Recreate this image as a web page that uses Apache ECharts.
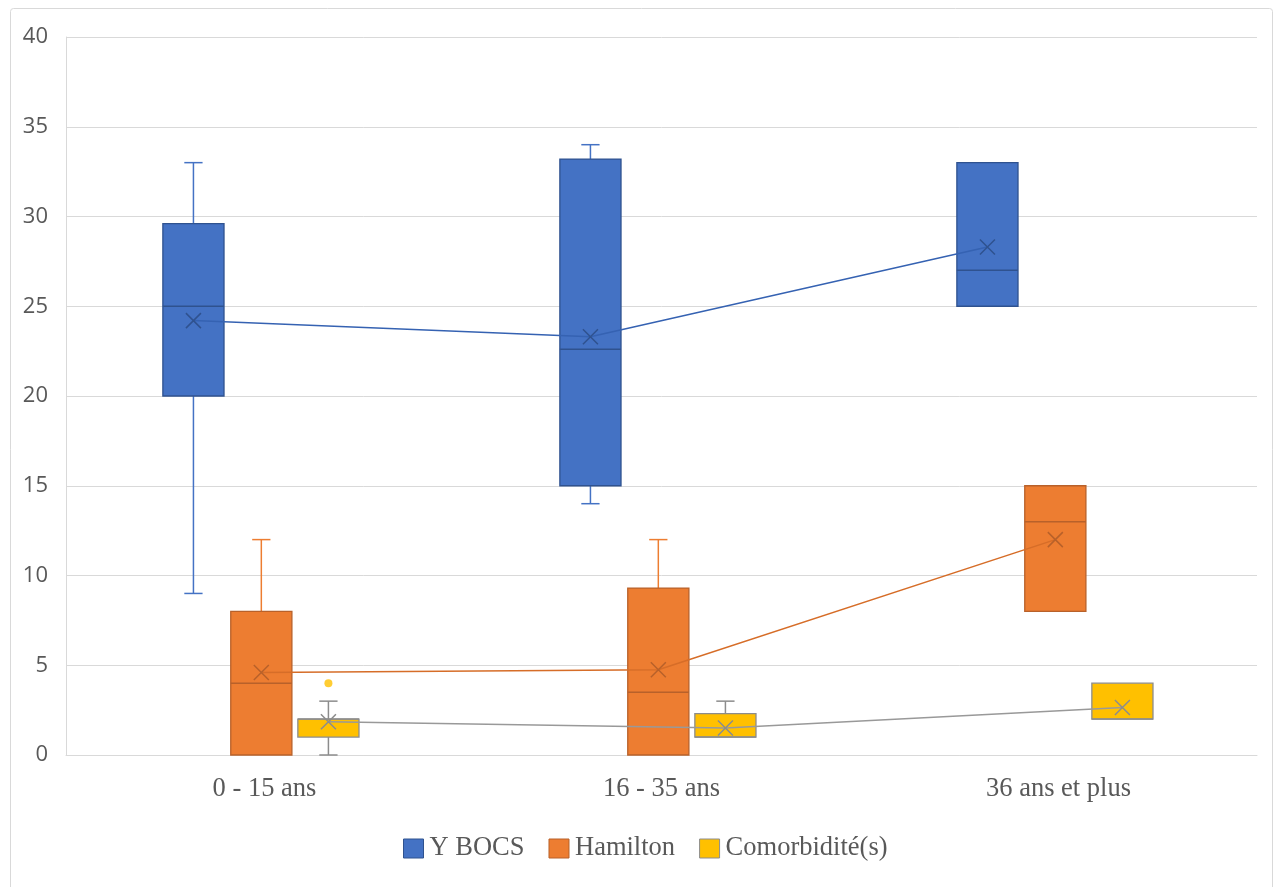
<!DOCTYPE html>
<html>
<head>
<meta charset="utf-8">
<script src="https://cdn.jsdelivr.net/npm/echarts@6/dist/echarts.min.js"></script>
<style>
  html, body { margin: 0; padding: 0; background: #fff; }
  #chart { width: 1274px; height: 887px; }
</style>
</head>
<body>
<div id="chart"></div>
<script>
// ---- Data ----
const categories = ['0 - 15 ans', '16 - 35 ans', '36 ans et plus'];
const seriesNames = ['Y BOCS', 'Hamilton', 'Comorbidité(s)'];
// [min, Q1, median, Q3, max]
const ybocsBox = [[9, 20, 25, 29.6, 33], [14, 15, 22.6, 33.2, 34], [25, 25, 27, 33, 33]];
const hamiltonBox = [[0, 0, 4, 8, 12], [0, 0, 3.5, 9.3, 12], [8, 8, 13, 15, 15]];
const comorbBox = [[0, 1, 2, 2, 3], [1, 1, 1, 2.3, 3], [2, 2, 2, 4, 4]];
const ybocsMean = [24.2, 23.3, 28.3];
const hamiltonMean = [4.6, 4.75, 12];
const comorbMean = [1.85, 1.5, 2.65];
// outliers: [category index, value]
const comorbOutliers = [[0, 4]];
const yTicks = [0, 5, 10, 15, 20, 25, 30, 35, 40];

// ---- Style ----
const styles = [
  { fill: '#4472C4', border: '#2F528F', whisker: '#4472C4', line: '#3562B2', mark: '#2F528F', offset: -0.179 },
  { fill: '#ED7D31', border: '#B8612A', whisker: '#ED7D31', line: '#D66D28', mark: '#B8612A', offset: -0.008 },
  { fill: '#FFC000', border: '#8C8C8C', whisker: '#8C8C8C', line: '#999999', mark: '#8C8C8C', offset: 0.161 }
];
const boxFrac = 0.154;
const capFrac = 0.046;

function makeRender(st) {
  return function (params, api) {
    const ci = api.value(0);
    const band = api.size([1, 0])[0];
    const cx = api.coord([ci, 0])[0] + band * st.offset;
    const w = band * boxFrac;
    const cap = band * capFrac;
    const y = i => api.coord([ci, api.value(i)])[1];
    const yMin = y(1), yQ1 = y(2), yMed = y(3), yQ3 = y(4), yMax = y(5);
    const children = [];
    const wl = { stroke: st.whisker, lineWidth: 1.5 };
    if (yMax < yQ3 - 0.5) {
      children.push({ type: 'line', shape: { x1: cx, y1: yQ3, x2: cx, y2: yMax }, style: wl });
      children.push({ type: 'line', shape: { x1: cx - cap / 2, y1: yMax, x2: cx + cap / 2, y2: yMax }, style: wl });
    }
    if (yMin > yQ1 + 0.5) {
      children.push({ type: 'line', shape: { x1: cx, y1: yQ1, x2: cx, y2: yMin }, style: wl });
      children.push({ type: 'line', shape: { x1: cx - cap / 2, y1: yMin, x2: cx + cap / 2, y2: yMin }, style: wl });
    }
    children.push({ type: 'rect', shape: { x: cx - w / 2, y: yQ3, width: w, height: yQ1 - yQ3 },
      style: { fill: st.fill, stroke: st.border, lineWidth: 1.3 } });
    children.push({ type: 'line', shape: { x1: cx - w / 2, y1: yMed, x2: cx + w / 2, y2: yMed },
      style: { stroke: st.border, lineWidth: 1.5 } });
    return { type: 'group', children: children };
  };
}

const boxes = [ybocsBox, hamiltonBox, comorbBox];
const means = [ybocsMean, hamiltonMean, comorbMean];

const series = [];
boxes.forEach((b, k) => {
  series.push({
    name: seriesNames[k],
    type: 'custom',
    xAxisIndex: 0, yAxisIndex: 0,
    renderItem: makeRender(styles[k]),
    itemStyle: { color: styles[k].fill },
    encode: { x: 0, y: [1, 2, 3, 4, 5] },
    data: b.map((v, i) => [i].concat(v)),
    z: 1
  });
});
means.forEach((m, k) => {
  series.push({
    name: seriesNames[k] + ' moyenne',
    type: 'line',
    xAxisIndex: 1, yAxisIndex: 0,
    data: m.map((v, i) => [i + 0.5 + styles[k].offset, v]),
    symbol: 'path://M0,0L10,10M10,0L0,10',
    symbolSize: 15,
    symbolKeepAspect: true,
    lineStyle: { color: styles[k].line, width: 1.5 },
    itemStyle: { color: 'none', borderColor: styles[k].mark, borderWidth: 1.5 },
    z: 10,
    silent: true
  });
});
series.push({
  name: 'Comorbidité(s) valeurs extrêmes',
  type: 'scatter',
  xAxisIndex: 1, yAxisIndex: 0,
  data: comorbOutliers.map(o => [o[0] + 0.5 + styles[2].offset, o[1]]),
  symbol: 'circle',
  symbolSize: 8,
  itemStyle: { color: '#FFC000' },
  z: 10
});

const chart = echarts.init(document.getElementById('chart'), null, { renderer: 'canvas' });
chart.setOption({
  animation: false,
  backgroundColor: '#fff',
  graphic: [{
    type: 'rect', shape: { x: 10.5, y: 8.5, width: 1262, height: 900, r: 3 },
    style: { fill: 'none', stroke: '#D9D9D9', lineWidth: 1 }, silent: true, z: -10
  }],
  grid: { left: 66, right: 17, top: 37, bottom: 132, containLabel: false },
  legend: {
    data: seriesNames.map((n, k) => ({ name: n, icon: 'rect',
      itemStyle: { color: styles[k].fill, borderColor: styles[k].border, borderWidth: 1 } })),
    bottom: 20,
    left: 398,
    itemWidth: 20, itemHeight: 19, itemGap: 24,
    textStyle: { fontFamily: 'Liberation Serif', fontSize: 26.5, color: '#595959', padding: [0, 0, 0, 1] },
    selectedMode: false
  },
  xAxis: [{
    type: 'category',
    data: categories,
    boundaryGap: true,
    axisLine: { show: true, lineStyle: { color: '#D9D9D9', width: 1 } },
    axisTick: { show: false },
    axisLabel: { fontFamily: 'Liberation Serif', fontSize: 26.5, color: '#595959', margin: 21 },
    splitLine: { show: false }
  }, {
    type: 'value', min: 0, max: 3, show: false
  }],
  yAxis: [{
    type: 'value',
    min: yTicks[0], max: yTicks[yTicks.length - 1], interval: 5,
    axisLine: { show: true, lineStyle: { color: '#D9D9D9', width: 1 } },
    axisTick: { show: false },
    axisLabel: { fontFamily: 'Open Sans', fontSize: 22, color: '#595959', margin: 18 },
    splitLine: { show: true, lineStyle: { color: '#D9D9D9', width: 1 } }
  }],
  series: series
});
</script>
</body>
</html>
